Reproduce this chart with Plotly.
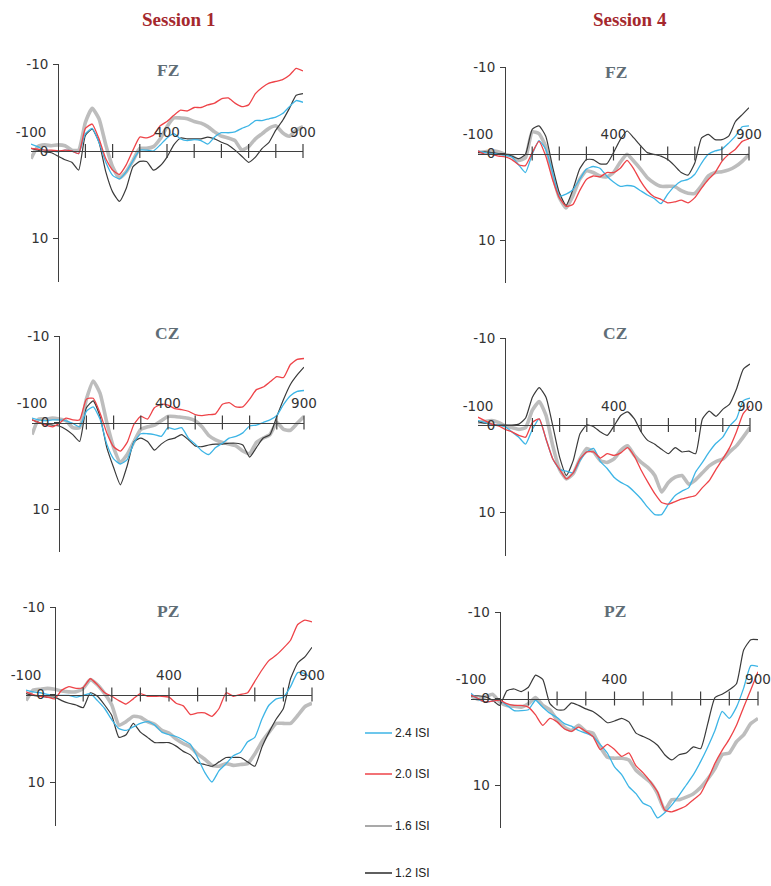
import plotly.graph_objects as go

# ---------------------------------------------------------------- data
TIME_MS = list(range(-100, 901, 25))          # sample times, ms
CONDITIONS = ["2.4 ISI", "2.0 ISI", "1.6 ISI", "1.2 ISI"]
SESSIONS = ["Session 1", "Session 4"]
SITES = ["FZ", "CZ", "PZ"]
X_LABEL_TICKS = [-100, 400, 900]
X_MARK_TICKS = list(range(100, 901, 100))
Y_TICKS = [-10, 0, 10]
Y_RANGE = [15, -10]                            # negative up

# amplitudes (µV) per site / session / ISI condition
FZ_S1_ISI24 = [-0.8, -0.5, -0.1, 0, 0.1, -0.1, 0, 0.3, -2.0, -2.6, -1.0, 1.3, 2.8, 3.2, 2.4, 1.1, -0.1, -0.1, 0, -0.7, -1.5,
               -2.0, -1.4, -1.2, -1.3, -1.2, -0.8, -1.6, -2.1, -2.1, -2.2, -2.6, -2.9, -3.5, -3.5, -3.7, -3.9, -4.3, -5.1, -5.8, -5.6]
FZ_S1_ISI20 = [-0.3, -0.2, -0.1, -0.1, 0, -0.1, 0, 0.3, -2.6, -3.1, -1.4, 0.9, 2.2, 2.7, 1.6, -0.1, -1.6, -1.5, -1.8, -2.9, -3.4,
               -4.1, -4.7, -4.6, -5.0, -5.0, -5.3, -5.5, -6.0, -6.1, -5.5, -5.1, -5.3, -6.6, -7.3, -7.8, -8.0, -8.2, -8.7, -9.5, -9.2]
FZ_S1_ISI16 = [0.9, -0.5, -0.7, -0.6, -0.7, -0.6, -0.1, -0.1, -3.3, -4.9, -3.7, -0.7, 1.8, 3.1, 2.4, 1.1, -0.3, -0.3, -0.5, -1.4, -2.8,
               -3.8, -3.8, -3.7, -3.4, -3.2, -2.8, -2.2, -1.7, -1.5, -1.2, -0.1, -0.5, -1.4, -2.0, -2.6, -2.9, -2.1, -1.7, -2.4, -2.8]
FZ_S1_ISI12 = [-0.3, -0.1, 0.1, 0.2, 0.6, 1.0, 1.3, 2.2, -1.8, -2.5, -1.0, 2.4, 4.7, 5.8, 4.3, 1.8, 1.2, 1.2, 2.2, 1.7, 0.7,
               -0.7, -1.5, -1.4, -1.4, -1.4, -1.6, -1.4, -1.0, -0.7, -0.1, 0.6, 1.3, 0.7, -0.3, -1.0, -2.4, -3.5, -4.9, -6.4, -6.6]

FZ_S4_ISI24 = [-0.3, -0.1, 0, 0.1, 0.2, 0.4, 1.3, 2.2, 0.1, -1.5, -0.5, 2.2, 4.9, 4.7, 4.2, 3.0, 1.8, 1.5, 1.7, 2.6, 3.3,
               3.8, 3.7, 3.8, 4.3, 4.8, 5.2, 5.8, 4.7, 3.8, 3.2, 3.0, 2.4, 1.1, 0.1, -0.3, -0.5, -1.2, -2.0, -3.1, -3.2]
FZ_S4_ISI20 = [-0.3, 0.1, 0.1, 0.3, 0.4, 0.7, 1.3, 1.4, -0.1, -1.4, 0.3, 3.0, 5.1, 6.1, 5.9, 4.3, 3.0, 2.6, 2.7, 2.2, 2.2,
               1.7, 0.8, 1.8, 3.2, 4.3, 5.0, 5.3, 5.7, 5.6, 5.4, 5.7, 5.1, 4.0, 3.0, 2.2, 0.9, 0.1, -0.5, -1.4, -1.7]
FZ_S4_ISI16 = [-0.1, -0.2, -0.3, -0.2, 0.1, 0.3, 0.8, 0.5, -2.5, -2.3, -0.8, 2.4, 5.1, 6.3, 4.9, 3.0, 2.0, 2.2, 2.6, 2.7, 2.2,
               1.0, 0.1, 0.9, 1.8, 2.8, 3.4, 3.8, 3.8, 3.8, 4.3, 4.6, 4.6, 3.7, 2.6, 2.2, 2.1, 1.9, 1.5, 0.9, 0.1]
FZ_S4_ISI12 = [-0.1, -0.2, -0.1, 0, 0.1, 0.3, 0.6, 0.1, -2.8, -3.2, -2.0, 1.5, 4.5, 6.0, 4.2, 1.8, 0.7, 0.7, 1.2, 1.2, -0.1,
               -1.6, -2.6, -1.8, -0.9, -0.1, 0.1, 0.3, 0.7, 1.4, 2.2, 2.5, 1.1, -1.8, -2.2, -1.6, -1.6, -2.0, -3.7, -4.5, -5.3]

CZ_S1_ISI24 = [-0.5, -0.3, -0.2, -0.3, -0.3, -0.2, 0.1, 0.5, -1.3, -1.8, -0.4, 2.5, 4.2, 4.8, 4.3, 2.3, 1.3, 1.3, 1.4, 1.6, 0.6,
               0.8, 0.6, 1.8, 2.5, 3.3, 3.7, 2.9, 2.4, 1.8, 1.6, 1.2, 0.4, 0.3, 0, -0.3, -0.8, -2.1, -3.1, -3.6, -3.7]
CZ_S1_ISI20 = [-0.3, 0, 0.3, 0.5, 0.1, -0.5, -0.3, -0.3, -2.7, -2.8, -1.1, 1.2, 2.8, 3.3, 2.3, 0.2, -0.7, -0.4, -1.7, -2.1, -2.0,
               -1.6, -1.5, -1.3, -0.9, -0.8, -0.9, -1.0, -2.1, -2.3, -1.8, -1.8, -2.7, -3.8, -4.1, -4.7, -5.3, -5.2, -6.7, -7.3, -7.4]
CZ_S1_ISI16 = [1.4, -0.4, -0.4, -0.5, -0.4, -0.2, 0.6, 0.6, -2.7, -4.8, -3.4, 0, 2.9, 4.6, 3.7, 2.2, 0.8, 0.5, 0.3, -0.2, -0.7,
               -0.7, -0.6, -0.5, -0.2, 0.5, 1.5, 2.0, 2.3, 2.5, 2.7, 3.3, 3.6, 2.3, 1.8, 1.4, 0, 0.8, 0.9, 0.1, -0.7]
CZ_S1_ISI12 = [-0.3, 0, 0.2, 0.3, 0.4, 0.8, 1.4, 2.2, -1.7, -2.5, -0.7, 2.9, 5.2, 7.2, 5.0, 2.2, 1.8, 2.2, 3.2, 2.5, 2.0,
               1.8, 1.4, 2.0, 2.7, 2.8, 2.6, 2.5, 2.5, 2.4, 2.4, 2.6, 4.0, 2.9, 1.8, 1.4, -0.7, -2.7, -4.4, -5.5, -6.4]

CZ_S4_ISI24 = [-0.5, -0.3, 0, 0, 0.2, 0.8, 1.4, 2.2, 0.5, -0.7, 1.6, 3.9, 5.1, 5.3, 5.5, 4.1, 3.1, 2.7, 4.2, 5.0, 6.0,
               6.6, 7.0, 7.7, 8.5, 9.5, 10.3, 10.3, 9.1, 8.1, 7.6, 7.2, 5.4, 4.3, 3.1, 2.1, 1.4, 0.1, -0.7, -2.8, -3.1]
CZ_S4_ISI20 = [-0.9, -0.5, -0.1, 0.1, 0.5, 0.8, 1.2, 1.4, -0.3, -0.7, 1.6, 3.9, 5.1, 6.2, 5.5, 3.9, 3.1, 3.1, 3.8, 3.3, 3.5,
               3.2, 2.6, 3.6, 5.2, 6.6, 7.9, 8.9, 9.1, 8.8, 8.5, 8.3, 8.1, 7.2, 6.4, 5.1, 3.9, 2.6, 0.8, -1.3, -2.2]
CZ_S4_ISI16 = [-0.3, -0.4, -0.5, -0.3, 0.1, 0.3, 0.5, 0.3, -1.7, -2.7, -1.1, 2.4, 5.1, 6.2, 5.6, 3.9, 2.7, 3.1, 4.1, 4.3, 3.9,
               2.9, 2.4, 3.5, 4.3, 4.9, 5.8, 7.7, 6.6, 6.0, 5.8, 6.8, 6.3, 5.5, 4.7, 4.2, 3.9, 3.1, 2.4, 1.4, 0.3]
CZ_S4_ISI12 = [-0.4, -0.2, -0.1, 0, 0, 0, -0.1, -0.8, -3.2, -4.3, -3.2, 0.1, 3.7, 5.8, 4.1, 1.0, 0, 0.2, 0.8, 1.2, 0.1,
               -1.1, -1.5, -0.7, 0.8, 1.8, 2.2, 2.8, 3.3, 2.6, 3.1, 3.0, 3.3, -0.7, -1.6, -1.0, -1.8, -2.4, -4.1, -6.4, -7.0]

PZ_S1_ISI24 = [-0.5, -0.3, -0.2, 0, 0.1, 0.1, 0.1, 0.3, 0.1, -0.1, 0.7, 1.6, 2.9, 3.9, 4.1, 3.7, 3.3, 3.1, 3.5, 4.3, 4.6,
               4.8, 5.2, 5.7, 7.2, 8.9, 10.0, 8.7, 7.9, 7.0, 6.6, 5.4, 4.9, 2.8, 1.2, 0.5, 0.3, -0.9, -2.5, -2.4, -1.8]
PZ_S1_ISI20 = [-0.3, 0, 0.2, 0.3, 0.5, -0.5, -0.9, -0.7, -0.8, -1.8, -1.1, -0.2, 0.2, 0.7, 1.1, 0.5, -0.1, 0.2, 0.2, 0.2, 0.3,
               1.0, 1.3, 2.3, 2.1, 2.1, 2.5, 1.6, -0.2, 0.2, 0, -0.2, -1.5, -2.8, -3.9, -4.5, -5.3, -6.2, -8.0, -8.5, -8.3]
PZ_S1_ISI16 = [0.7, -0.5, -0.6, -0.7, -0.6, -0.4, -0.3, -0.3, -0.7, -1.7, -1.1, -0.1, 1.2, 3.5, 3.1, 2.5, 2.6, 3.1, 3.4, 4.1, 4.4,
               5.1, 5.6, 6.0, 6.8, 7.4, 8.1, 8.2, 7.9, 8.1, 8.0, 7.9, 6.8, 5.4, 4.3, 3.3, 3.3, 3.3, 2.4, 1.4, 1.0]
PZ_S1_ISI12 = [-0.1, 0.1, 0.2, 0.3, 0.3, 0.7, 1.0, 1.2, 1.5, -0.2, 0.2, 1.2, 2.4, 4.9, 4.6, 3.3, 4.3, 4.9, 5.5, 5.5, 5.5,
               5.9, 6.5, 6.9, 7.8, 8.0, 8.2, 7.7, 7.2, 7.2, 7.2, 7.7, 8.2, 6.0, 4.3, 2.8, 1.6, -1.8, -3.6, -4.3, -5.4]

PZ_S4_ISI24 = [-0.6, 0.1, 0.4, 0.3, 0.2, 0.8, 1.4, 1.4, 1.3, 0.2, 1.0, 1.7, 2.2, 2.9, 3.2, 3.7, 4.0, 4.4, 5.3, 6.3, 7.9,
               8.8, 10.2, 11.0, 12.1, 12.5, 13.8, 13.2, 12.3, 11.2, 10.0, 8.8, 7.3, 5.6, 3.7, 1.5, 2.3, 1.0, -1.2, -3.8, -3.7]
PZ_S4_ISI20 = [-0.4, 0, 0.4, 0.3, 0.2, 0.6, 0.8, 0.8, 1.0, 1.9, 3.1, 2.3, 2.7, 3.5, 3.8, 3.3, 3.8, 4.4, 5.9, 5.3, 5.9,
               6.7, 6.3, 7.8, 8.6, 9.6, 10.8, 12.9, 13.1, 12.8, 12.4, 11.7, 11.0, 9.4, 7.5, 6.0, 4.7, 3.1, 1.0, -1.0, -3.1]
PZ_S4_ISI16 = [-0.3, 0.1, -0.2, -0.5, 0.4, 0.8, 0.9, 1.0, 0.6, -0.1, 0.8, 1.3, 2.5, 3.3, 3.7, 3.1, 3.8, 4.0, 5.6, 6.8, 6.9,
               6.9, 7.1, 8.3, 9.0, 9.7, 11.0, 12.9, 11.7, 11.7, 11.4, 11.0, 10.3, 9.3, 8.1, 6.5, 6.3, 5.0, 4.2, 2.9, 2.3]
PZ_S4_ISI12 = [-0.3, -0.3, -0.2, 0.2, 0.8, -0.9, -1.1, -0.8, -1.3, -2.7, -2.2, 0.6, 1.3, 1.3, 0.5, 0.8, 1.2, 1.5, 2.1, 2.8, 2.6,
               2.3, 2.7, 4.0, 4.4, 4.8, 5.4, 6.5, 7.1, 6.5, 6.3, 5.6, 5.8, 2.9, -0.1, -0.5, -1.0, -1.7, -5.6, -6.8, -6.8]

WAVES = {
    ("FZ", "Session 1"): [FZ_S1_ISI24, FZ_S1_ISI20, FZ_S1_ISI16, FZ_S1_ISI12],
    ("FZ", "Session 4"): [FZ_S4_ISI24, FZ_S4_ISI20, FZ_S4_ISI16, FZ_S4_ISI12],
    ("CZ", "Session 1"): [CZ_S1_ISI24, CZ_S1_ISI20, CZ_S1_ISI16, CZ_S1_ISI12],
    ("CZ", "Session 4"): [CZ_S4_ISI24, CZ_S4_ISI20, CZ_S4_ISI16, CZ_S4_ISI12],
    ("PZ", "Session 1"): [PZ_S1_ISI24, PZ_S1_ISI20, PZ_S1_ISI16, PZ_S1_ISI12],
    ("PZ", "Session 4"): [PZ_S4_ISI24, PZ_S4_ISI20, PZ_S4_ISI16, PZ_S4_ISI12],
}

# ---------------------------------------------------------------- styling
W, H = 771, 886
AXIS_COLOR = "#3f3f3f"
TICK_FONT = dict(family="DejaVu Sans, Verdana, sans-serif", size=13.5, color="#333333")
STYLE = {
    "2.4 ISI": dict(color="#3db5e6", width=1.3),
    "2.0 ISI": dict(color="#ee4348", width=1.3),
    "1.6 ISI": dict(color="#bdbdbd", width=3.6),
    "1.2 ISI": dict(color="#3a3a3a", width=1.2),
}
LEGEND_KEY_COLOR = {"2.4 ISI": "#3db5e6", "2.0 ISI": "#ee4348", "1.6 ISI": "#8c8c8c", "1.2 ISI": "#2a2a2a"}
DRAW_ORDER = ["1.6 ISI", "1.2 ISI", "2.4 ISI", "2.0 ISI"]

# panel boxes in pixels: x at -100 ms, x at 900 ms, y at -10 µV, y at +10 µV
PANEL_BOX = {
    ("FZ", "Session 1"): (31, 303, 64, 238),
    ("FZ", "Session 4"): (478, 749, 67, 240),
    ("CZ", "Session 1"): (32, 304, 336, 509),
    ("CZ", "Session 4"): (478, 750, 338, 512),
    ("PZ", "Session 1"): (26, 312, 607, 782),
    ("PZ", "Session 4"): (471, 758, 612, 785),
}
SITE_TITLE_POS = {
    ("FZ", "Session 1"): (168, 70), ("FZ", "Session 4"): (616, 72),
    ("CZ", "Session 1"): (167, 333), ("CZ", "Session 4"): (615, 333),
    ("PZ", "Session 1"): (168, 611), ("PZ", "Session 4"): (615, 611),
}
SESSION_TITLE_POS = {"Session 1": (178, 20), "Session 4": (630, 20)}
LEGEND_ROWS_Y = [733, 774, 826, 873]
LEGEND_X = (365, 392)


def px_x(v):
    return v / W


def px_y(v):
    return 1 - v / H


fig = go.Figure()
layout = dict(
    width=W, height=H, margin=dict(l=0, r=0, t=0, b=0, autoexpand=False),
    paper_bgcolor="white", plot_bgcolor="rgba(0,0,0,0)",
    showlegend=False, annotations=[], shapes=[],
)

for i, key in enumerate(PANEL_BOX):
    n = i + 1
    xl, xr, ytop, y10 = PANEL_BOX[key]
    unit = (y10 - ytop) / 20.0
    ybot = y10 + 5 * unit
    yzero = ytop + 10 * unit
    xa, ya = f"x{n}", f"y{n}"
    xname = "xaxis" if n == 1 else f"xaxis{n}"
    yname = "yaxis" if n == 1 else f"yaxis{n}"

    series = dict(zip(CONDITIONS, WAVES[key]))
    for cond in DRAW_ORDER:
        fig.add_trace(go.Scatter(
            x=TIME_MS, y=series[cond], mode="lines", name=cond,
            line=dict(color=STYLE[cond]["color"], width=STYLE[cond]["width"],
                      shape="spline", smoothing=0.5),
            xaxis=xa, yaxis=ya, hoverinfo="skip",
        ))
    # crossing tick marks on the time axis
    fig.add_trace(go.Scatter(
        x=X_MARK_TICKS, y=[0] * len(X_MARK_TICKS), mode="markers",
        marker=dict(symbol="line-ns", size=10, line=dict(width=1.2, color=AXIS_COLOR)),
        xaxis=xa, yaxis=ya, hoverinfo="skip", cliponaxis=False,
    ))

    layout[xname] = dict(
        domain=[px_x(xl), px_x(xr)], range=[-100, 900], anchor="free",
        position=px_y(yzero), side="top", showline=True, linecolor=AXIS_COLOR,
        linewidth=1.2, ticks="", tickvals=X_LABEL_TICKS,
        ticktext=[str(v) for v in X_LABEL_TICKS], tickfont=TICK_FONT,
        ticklabelstandoff=9, showgrid=False, zeroline=False, fixedrange=True,
        automargin=False,
    )
    layout[yname] = dict(
        domain=[px_y(ybot), px_y(ytop)], range=Y_RANGE, anchor="free",
        position=px_x(xl + 0.1 * (xr - xl)), showline=True, linecolor=AXIS_COLOR,
        linewidth=1.2, ticks="outside", ticklen=5, tickwidth=1.2, tickcolor=AXIS_COLOR,
        tickvals=Y_TICKS, ticktext=[str(v) for v in Y_TICKS], tickfont=TICK_FONT,
        ticklabelstandoff=2, showgrid=False, zeroline=False, fixedrange=True,
        automargin=False,
    )

    tx, ty = SITE_TITLE_POS[key]
    layout["annotations"].append(dict(
        text=f"<b>{key[0]}</b>", x=px_x(tx), y=px_y(ty), xref="paper", yref="paper",
        showarrow=False, xanchor="center", yanchor="middle",
        font=dict(family="Liberation Serif, Times New Roman, serif", size=17.5, color="#5f6d76"),
    ))

for sess, (sx, sy) in SESSION_TITLE_POS.items():
    layout["annotations"].append(dict(
        text=f"<b>{sess}</b>", x=px_x(sx), y=px_y(sy), xref="paper", yref="paper",
        showarrow=False, xanchor="center", yanchor="middle",
        font=dict(family="Liberation Serif, Times New Roman, serif", size=19, color="#a5282d"),
    ))

# legend keys
for cond, ly in zip(CONDITIONS, LEGEND_ROWS_Y):
    layout["shapes"].append(dict(
        type="line", xref="paper", yref="paper",
        x0=px_x(LEGEND_X[0]), x1=px_x(LEGEND_X[1]), y0=px_y(ly), y1=px_y(ly),
        line=dict(color=LEGEND_KEY_COLOR[cond], width=1.5),
    ))
    layout["annotations"].append(dict(
        text=cond, x=px_x(LEGEND_X[1] + 1), y=px_y(ly), xref="paper", yref="paper",
        showarrow=False, xanchor="left", yanchor="middle",
        font=dict(family="Liberation Sans, Arial, sans-serif", size=12, color="#222222"),
    ))

fig.update_layout(**layout)
fig.write_html("out.html")
